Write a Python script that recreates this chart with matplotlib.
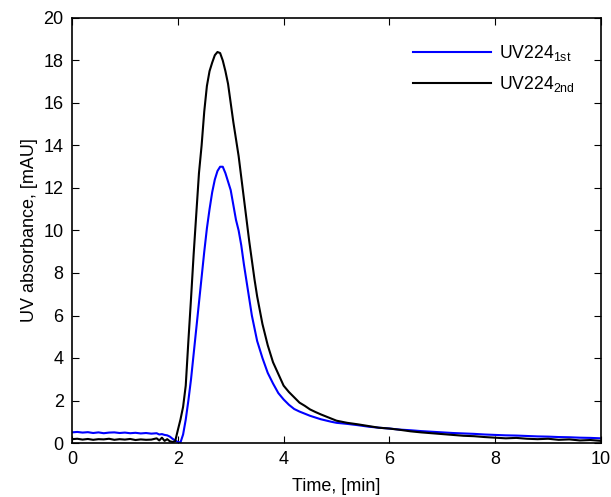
import matplotlib
matplotlib.use("Agg")
import matplotlib.pyplot as plt

plt.rcParams['font.family'] = ['Liberation Sans', 'DejaVu Sans']
plt.rcParams['mathtext.fontset'] = 'custom'
plt.rcParams['mathtext.rm'] = 'Liberation Sans'

time = [0.0, 0.1, 0.2, 0.3, 0.4, 0.5, 0.6, 0.7, 0.8, 0.9, 1.0, 1.1, 1.2, 1.3, 1.4, 1.5,
        1.6, 1.65, 1.7, 1.75, 1.8, 1.85, 1.9, 1.95, 2.0, 2.05, 2.1, 2.15, 2.2, 2.25, 2.3,
        2.35, 2.4, 2.45, 2.5, 2.55, 2.6, 2.65, 2.7, 2.75, 2.8, 2.85, 2.9, 2.95, 3.0, 3.05,
        3.1, 3.15, 3.2, 3.25, 3.3, 3.35, 3.4, 3.45, 3.5, 3.6, 3.7, 3.8, 3.9, 4.0, 4.1, 4.2,
        4.3, 4.4, 4.5, 4.6, 4.7, 4.8, 4.9, 5.0, 5.2, 5.4, 5.6, 5.8, 6.0, 6.2, 6.4, 6.6, 6.8,
        7.0, 7.2, 7.4, 7.6, 7.8, 8.0, 8.2, 8.4, 8.6, 8.8, 9.0, 9.2, 9.4, 9.6, 9.8, 10.0]

uv_1st = [0.50, 0.52, 0.49, 0.51, 0.47, 0.50, 0.46, 0.49, 0.50, 0.47, 0.49, 0.46, 0.48, 0.45,
          0.47, 0.44, 0.46, 0.40, 0.42, 0.38, 0.36, 0.30, 0.20, 0.12, 0.05, 0.02, 0.40, 1.10,
          2.00, 3.00, 4.20, 5.40, 6.60, 7.80, 9.00, 10.1, 11.0, 11.8, 12.4, 12.8, 13.0, 13.0,
          12.7, 12.3, 11.9, 11.2, 10.5, 10.0, 9.30, 8.40, 7.60, 6.80, 6.00, 5.40, 4.80, 4.00,
          3.30, 2.80, 2.35, 2.05, 1.80, 1.60, 1.48, 1.38, 1.28, 1.20, 1.12, 1.06, 1.00, 0.95,
          0.90, 0.84, 0.77, 0.72, 0.68, 0.63, 0.60, 0.56, 0.53, 0.50, 0.47, 0.45, 0.43, 0.40,
          0.38, 0.36, 0.35, 0.33, 0.31, 0.30, 0.28, 0.27, 0.25, 0.24, 0.22]

uv_2nd = [0.18, 0.20, 0.16, 0.19, 0.15, 0.18, 0.17, 0.20, 0.15, 0.18, 0.16, 0.19, 0.14, 0.17,
          0.15, 0.16, 0.22, 0.12, 0.25, 0.10, 0.18, 0.08, 0.05, 0.08, 0.60, 1.10, 1.70, 2.70,
          4.80, 6.80, 8.90, 10.8, 12.7, 14.0, 15.6, 16.8, 17.5, 17.9, 18.25, 18.4, 18.35, 18.0,
          17.5, 16.9, 16.0, 15.1, 14.3, 13.5, 12.5, 11.5, 10.5, 9.50, 8.60, 7.70, 6.90, 5.60,
          4.60, 3.80, 3.25, 2.70, 2.40, 2.15, 1.90, 1.75, 1.58, 1.46, 1.35, 1.25, 1.15, 1.05,
          0.95, 0.88, 0.80, 0.72, 0.68, 0.62, 0.55, 0.50, 0.46, 0.42, 0.38, 0.34, 0.32, 0.28,
          0.25, 0.22, 0.24, 0.20, 0.18, 0.20, 0.15, 0.17, 0.12, 0.14, 0.10]

labels = ['UV224$_{\\mathregular{1st}}$', 'UV224$_{\\mathregular{2nd}}$']
x_ticks = [0, 2, 4, 6, 8, 10]
y_ticks = [0, 2, 4, 6, 8, 10, 12, 14, 16, 18, 20]

W, H = 611, 497
fig = plt.figure(figsize=(W / 100, H / 100), dpi=100)
ax = fig.add_axes([72 / W, 1 - 443 / H, (601 - 72) / W, (443 - 18) / H])

ax.plot(time, uv_1st, color='#0000ff', lw=1.5, label=labels[0])
ax.plot(time, uv_2nd, color='black', lw=1.5, label=labels[1])

ax.set_xlim(0, 10)
ax.set_ylim(0, 20)
ax.set_xticks(x_ticks)
ax.set_yticks(y_ticks)
ax.tick_params(direction='in', top=True, right=True, labelsize=13, length=5, width=0.8, pad=6)
for s in ax.spines.values():
    s.set_linewidth(1.2)
ax.set_xlabel('Time, [min]', fontsize=13, labelpad=7)
ax.set_ylabel('UV absorbance, [mAU]', fontsize=13, labelpad=4)

fs = 12.7
em = fs * 100 / 72
leg = ax.legend(loc='upper left', frameon=False, fontsize=fs, handlelength=78 / em,
                handletextpad=8 / em, labelspacing=0.62, borderpad=0.4,
                bbox_to_anchor=((404 - 0.4 * em) / W, 1 - 27 / H),
                bbox_transform=fig.transFigure)

fig.savefig('out.png', dpi=100)
